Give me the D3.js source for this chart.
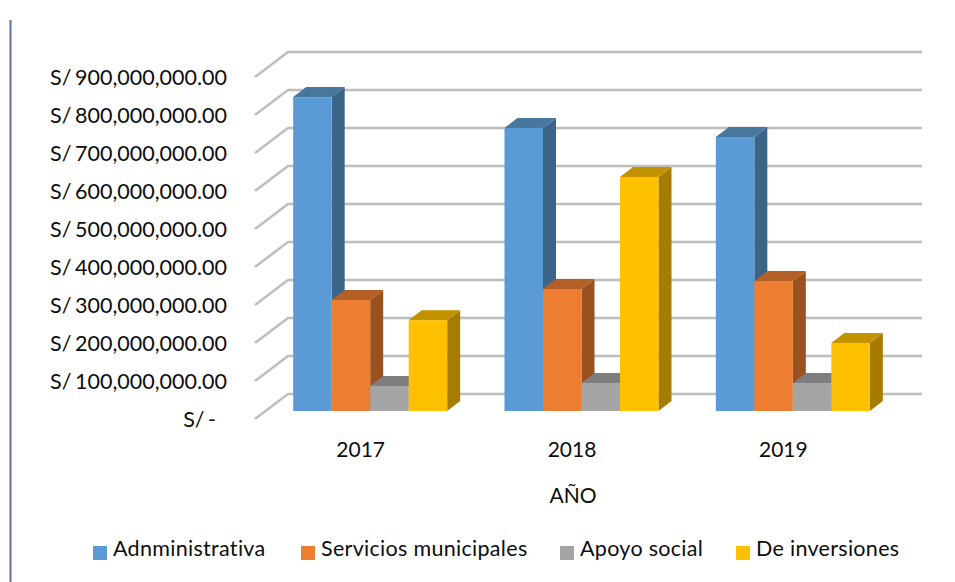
<!DOCTYPE html>
<html>
<head>
<meta charset="utf-8">
<script src="https://cdnjs.cloudflare.com/ajax/libs/d3/7.8.5/d3.min.js"></script>
<style>
html,body{margin:0;padding:0;background:#fff}
svg{display:block}
text{font-family:Lato,"Open Sans",sans-serif;fill:#0d0d0d}
</style>
</head>
<body>
<svg id="chart" width="955" height="582"></svg>
<script>
const years = ["2017", "2018", "2019"];
const seriesNames = ["Adnministrativa", "Servicios municipales", "Apoyo social", "De inversiones"];
const adnministrativa = [826000000, 745000000, 721000000];
const servicios = [292000000, 321000000, 342000000];
const apoyo = [66000000, 74000000, 74000000];
const inversiones = [239000000, 616000000, 179000000];
const seriesValues = [adnministrativa, servicios, apoyo, inversiones];
const axisTicks = d3.range(0, 900000001, 100000000);

const frontFill = ["#5b9bd5", "#ed7d31", "#a5a5a5", "#ffc000"];
const sideFill = ["#3b6489", "#9a5120", "#6b6b6b", "#a67c00"];
const topFill = ["#47769f", "#b45f25", "#7e7e7e", "#c29200"];

const svg = d3.select("#chart");

// Frame rule on the left edge
svg.append("line").attr("x1", 10.5).attr("x2", 10.5).attr("y1", 20).attr("y2", 582)
  .attr("stroke", "#5d7299").attr("stroke-width", 2);

const x = d3.scaleBand().domain(years).range([255, 889]);
const y = d3.scaleLinear().domain([0, 900000000]).range([419, 77]);
const wall = {dx: 33, dy: -25};       // floor depth of the 3D box
const barShift = {dx: 9.5, dy: -8};   // where the bars stand on the floor
const barDepth = {dx: 13, dy: -10};   // depth of each bar
const barW = 38.5;
const barStart = x.bandwidth() / 2 - 2 * barW;

// Gridlines: one stroke along the side wall and on across the back wall
const grid = svg.append("g").attr("fill", "none");
const gridPath = v => d3.line()([
  [x.range()[0], y(v)],
  [x.range()[0] + wall.dx, y(v) + wall.dy],
  [x.range()[1] + wall.dx, y(v) + wall.dy]
]);
grid.selectAll(".halo").data(axisTicks).join("path").attr("class", "halo")
  .attr("d", gridPath).attr("stroke", "#dcdcdc").attr("stroke-width", 3.2);
grid.selectAll(".core").data(axisTicks).join("path").attr("class", "core")
  .attr("d", gridPath).attr("stroke", "#b4b4b4").attr("stroke-width", 1.4);

// Value axis labels
const money = d3.format(",.2f");
svg.append("g").selectAll("text").data(axisTicks).join("text")
  .attr("x", d => d === 0 ? 216 : 227)
  .attr("y", d => y(d) + 8)
  .attr("text-anchor", "end")
  .attr("font-size", 21.5)
  .attr("word-spacing", -2)
  .text(d => d === 0 ? "S/ -" : "S/ " + money(d));

// Bars, painted series by series so nearer faces overlap correctly
const barsLayer = svg.append("g");
years.forEach((yr, yi) => {
  seriesNames.forEach((name, si) => {
    const v = seriesValues[si][yi];
    const x0 = x(yr) + barStart + barShift.dx + si * barW;
    const x1 = x0 + barW;
    const base = y(0) + barShift.dy;
    const top = base - (y(0) - y(v));
    const g = barsLayer.append("g").attr("class", "bar");
    g.append("path").attr("fill", sideFill[si]).attr("d", d3.line()([
      [x1, top], [x1 + barDepth.dx, top + barDepth.dy],
      [x1 + barDepth.dx, base + barDepth.dy], [x1, base]
    ]) + "Z");
    g.append("path").attr("fill", topFill[si]).attr("d", d3.line()([
      [x0, top], [x0 + barDepth.dx, top + barDepth.dy],
      [x1 + barDepth.dx, top + barDepth.dy], [x1, top]
    ]) + "Z");
    g.append("rect").attr("x", x0).attr("y", top).attr("width", barW)
      .attr("height", base - top).attr("fill", frontFill[si]);
  });
});

// Category labels and axis title
svg.append("g").selectAll("text").data(years).join("text")
  .attr("x", d => x(d) + x.bandwidth() / 2)
  .attr("y", 457)
  .attr("text-anchor", "middle")
  .attr("font-size", 21)
  .text(d => d);
svg.append("text").attr("x", 573).attr("y", 503).attr("text-anchor", "middle")
  .attr("font-size", 21).text("AÑO");

// Legend
const legendX = [93, 301, 560, 736];
const legend = svg.append("g").selectAll("g").data(seriesNames).join("g")
  .attr("transform", (d, i) => `translate(${legendX[i]},546)`);
legend.append("rect").attr("width", 14).attr("height", 14)
  .attr("fill", (d, i) => frontFill[i]);
legend.append("text").attr("x", 20).attr("y", 10)
  .attr("font-size", 21.5).attr("letter-spacing", 0.3).text(d => d);
</script>
</body>
</html>
